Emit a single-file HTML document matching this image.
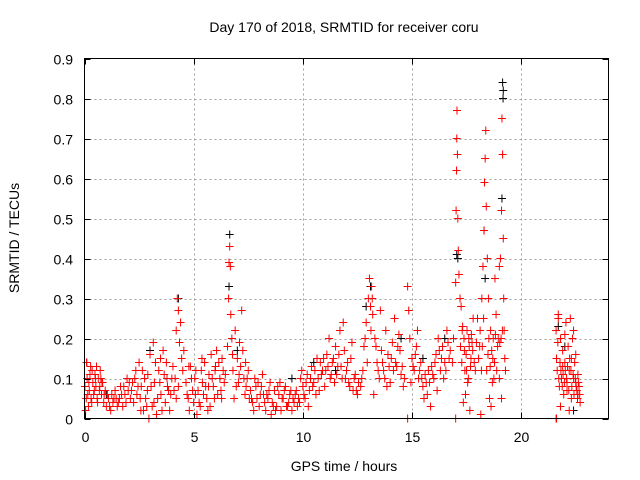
<!DOCTYPE html>
<html><head><meta charset="utf-8"><style>
body{margin:0;background:#fff;}
svg{display:block;font-family:"Liberation Sans",sans-serif;}
</style></head><body>
<svg id="chart" width="640" height="480">
<rect x="0" y="0" width="640" height="480" fill="#fff"/>
<g id="grid"></g>
<g id="marks"></g>
<rect x="84.5" y="58.5" width="524" height="360" fill="none" stroke="#000" stroke-width="1"/>
<g id="ticks"></g>
<text x="344" y="32" text-anchor="middle" font-size="14">Day 170 of 2018, SRMTID for receiver coru</text>
<text x="344" y="471" text-anchor="middle" font-size="14">GPS time / hours</text>
<text transform="translate(19,238) rotate(-90)" text-anchor="middle" font-size="14">SRMTID / TECUs</text>
</svg>
<script>
const xTicks=[0,5,10,15,20];
const yTicks=[0,0.1,0.2,0.3,0.4,0.5,0.6,0.7,0.8,0.9];
const yTickLabels=["0","0.1","0.2","0.3","0.4","0.5","0.6","0.7","0.8","0.9"];
const blackT=[0.1,1.0,3.0,4.3,6.65,6.62,7.0,9.5,10.5,11.5,12.9,13.1,14.5,15.5,16.5,17.05,17.1,18.3,18.35,19.15,19.18,19.17,19.12,21.7,22.0,22.4];
const blackV=[0.14,0.06,0.17,0.3,0.46,0.33,0.17,0.1,0.14,0.12,0.28,0.33,0.2,0.15,0.2,0.41,0.4,0.47,0.35,0.84,0.82,0.8,0.55,0.23,0.18,0.02];
const redT=[0.05,0.1,0.15,0.2,0.3,0.35,0.45,0.5,0.6,0.7,0.8,0.9,1.0,1.1,1.2,1.3,1.4,1.5,1.6,1.7,1.8,1.9,2.0,2.1,2.2,2.3,2.4,0.25,0.55,0.75,1.05,1.45,1.75,2.05,2.35,
2.5,2.6,2.7,2.8,2.9,3.0,3.1,3.2,3.3,3.4,3.5,3.6,3.7,3.8,3.9,4.0,2.65,2.95,3.25,3.55,3.85,3.15,3.45,
4.15,4.2,4.25,4.3,4.35,4.4,4.45,4.5,4.55,4.3,4.2,
4.7,4.8,4.9,5.0,5.1,5.2,5.3,5.4,5.5,5.6,5.7,5.8,5.9,6.0,6.1,6.2,6.3,6.4,4.85,5.15,5.45,5.75,6.05,6.35,
6.55,6.6,6.62,6.65,6.68,6.7,6.75,6.8,6.9,7.0,7.1,7.2,7.3,7.4,7.5,6.85,7.05,7.25,
7.6,7.7,7.8,7.9,8.0,8.1,8.2,8.3,8.4,8.5,8.6,8.7,8.8,8.9,9.0,9.1,9.2,9.3,9.4,9.5,9.6,9.7,9.8,9.9,7.75,8.15,8.55,8.95,9.35,9.75,
10.0,10.1,10.2,10.3,10.4,10.5,10.6,10.7,10.8,10.9,11.0,11.1,11.2,11.3,11.4,11.5,11.6,11.7,11.8,11.9,12.0,12.1,12.2,12.3,12.4,12.5,10.25,10.65,11.05,11.45,11.85,12.25,
12.7,12.8,12.9,13.0,13.05,13.1,13.15,13.2,13.3,13.4,13.5,13.6,13.7,13.8,13.9,14.0,14.1,14.2,14.3,14.4,14.5,14.6,12.95,13.25,13.55,13.85,14.15,14.45,
14.8,14.85,14.9,15.0,15.1,15.2,15.3,15.4,15.5,15.6,15.7,15.8,15.9,16.0,16.1,16.2,16.3,16.4,16.5,16.6,16.7,14.95,15.25,15.55,15.85,16.15,16.45,
16.9,17.0,17.02,17.04,17.05,17.06,17.08,17.1,17.12,17.15,17.2,17.25,17.3,17.4,17.5,17.6,17.7,17.8,17.35,17.55,17.75,17.45,17.65,
17.9,18.0,18.1,18.2,18.25,18.3,18.32,18.35,18.38,18.4,18.45,18.5,18.6,18.7,18.8,18.85,18.15,18.55,18.75,18.42,18.62,
18.95,19.0,19.05,19.1,19.12,19.15,19.18,19.2,19.22,19.25,19.0,19.1,
21.6,21.65,21.7,21.75,21.8,21.85,21.9,21.95,22.0,22.05,22.1,22.15,22.2,22.25,22.3,22.35,22.4,22.45,22.5,22.55,22.6,22.65,22.7,21.7,21.8,21.9,22.0,22.1,22.2,22.3,22.4,22.5,22.6,
14.8,17.0,21.6,21.62,
0.02,0.08,0.12,0.18,0.22,0.28,0.33,0.38,0.42,0.48,0.52,0.58,0.63,0.68,0.72,0.78,0.83,0.88,0.95,1.15,1.25,1.35,1.55,1.65,1.85,1.95,2.15,2.25,2.45,
2.55,2.75,2.85,3.05,3.35,3.65,3.75,3.95,2.58,2.88,3.18,3.48,3.78,4.05,4.1,
4.65,4.75,4.95,5.05,5.25,5.35,5.55,5.65,5.85,5.95,6.15,6.25,6.45,4.78,5.08,5.38,5.68,5.98,6.28,
6.95,7.15,7.35,7.45,7.55,6.78,7.08,7.38,
7.65,7.85,8.05,8.25,8.45,8.65,8.85,9.05,9.25,9.45,9.65,9.85,7.95,8.35,8.75,9.15,9.55,9.95,
10.05,10.15,10.35,10.45,10.55,10.75,10.85,10.95,11.15,11.25,11.35,11.55,11.65,11.75,11.95,12.05,12.15,12.35,12.45,12.55,
12.65,12.75,12.85,13.35,13.45,13.65,13.75,13.95,14.05,14.25,14.35,14.55,14.65,13.12,13.18,
15.05,15.15,15.35,15.45,15.65,15.75,15.95,16.05,16.25,16.35,16.55,16.65,16.75,16.85,
17.22,17.28,17.32,17.38,17.42,17.48,17.52,17.58,17.62,17.68,17.72,17.78,17.85,17.95,18.05,18.12,18.18,18.22,18.28,18.48,18.52,18.58,18.65,18.68,18.72,18.78,18.82,18.88,18.92,19.02,19.08,19.14,19.28,
21.62,21.68,21.72,21.78,21.82,21.88,21.92,21.98,22.02,22.08,22.12,22.18,22.22,22.28,22.32,22.38,22.42,22.48,22.52,22.58,22.62,22.68];
const redV=[0.02,0.14,0.06,0.09,0.05,0.12,0.07,0.1,0.04,0.08,0.09,0.06,0.03,0.05,0.02,0.04,0.07,0.03,0.05,0.06,0.08,0.04,0.07,0.05,0.09,0.1,0.06,0.11,0.13,0.1,0.06,0.05,0.03,0.09,0.12,
0.14,0.08,0.02,0.05,0.11,0.16,0.03,0.09,0.01,0.12,0.06,0.17,0.04,0.08,0.02,0.1,0.12,0.0,0.14,0.02,0.07,0.19,0.09,
0.1,0.22,0.3,0.27,0.19,0.24,0.15,0.12,0.17,0.08,0.05,
0.06,0.02,0.1,0.04,0.12,0.07,0.03,0.09,0.14,0.05,0.11,0.16,0.08,0.13,0.06,0.1,0.15,0.09,0.13,0.01,0.06,0.03,0.17,0.12,
0.18,0.3,0.39,0.43,0.38,0.26,0.2,0.12,0.22,0.15,0.19,0.27,0.1,0.08,0.12,0.05,0.09,0.17,
0.07,0.04,0.1,0.05,0.03,0.08,0.06,0.02,0.05,0.09,0.04,0.07,0.03,0.06,0.02,0.05,0.08,0.03,0.06,0.02,0.04,0.07,0.05,0.1,0.02,0.11,0.01,0.09,0.04,0.03,
0.08,0.05,0.11,0.07,0.13,0.09,0.06,0.1,0.14,0.12,0.08,0.16,0.2,0.11,0.15,0.18,0.13,0.22,0.1,0.17,0.12,0.09,0.15,0.07,0.11,0.06,0.03,0.15,0.12,0.09,0.24,0.19,
0.1,0.18,0.24,0.3,0.35,0.28,0.33,0.26,0.2,0.14,0.1,0.17,0.12,0.22,0.16,0.09,0.19,0.25,0.13,0.21,0.11,0.08,0.14,0.06,0.27,0.08,0.12,0.17,
0.33,0.27,0.2,0.15,0.12,0.18,0.1,0.14,0.08,0.11,0.06,0.09,0.13,0.1,0.16,0.2,0.12,0.18,0.14,0.22,0.15,0.09,0.22,0.05,0.03,0.07,0.1,
0.2,0.34,0.52,0.62,0.7,0.77,0.66,0.5,0.42,0.36,0.3,0.28,0.22,0.17,0.12,0.2,0.15,0.25,0.04,0.09,0.19,0.06,0.02,
0.12,0.25,0.18,0.3,0.38,0.47,0.59,0.65,0.72,0.53,0.4,0.3,0.22,0.15,0.35,0.26,0.01,0.05,0.1,0.12,0.03,
0.2,0.38,0.4,0.52,0.75,0.66,0.45,0.3,0.22,0.15,0.1,0.05,
0.22,0.12,0.25,0.08,0.2,0.1,0.17,0.06,0.14,0.24,0.09,0.18,0.12,0.25,0.05,0.2,0.1,0.14,0.16,0.07,0.11,0.08,0.04,0.26,0.03,0.13,0.21,0.07,0.02,0.15,0.22,0.09,0.06,
0,0,0,0,
0.08,0.05,0.1,0.03,0.07,0.13,0.04,0.09,0.06,0.11,0.08,0.05,0.1,0.07,0.12,0.06,0.09,0.04,0.07,0.03,0.06,0.05,0.04,0.08,0.06,0.1,0.07,0.04,0.08,
0.05,0.1,0.03,0.08,0.05,0.11,0.14,0.06,0.02,0.07,0.04,0.15,0.1,0.13,0.07,
0.09,0.05,0.07,0.1,0.04,0.12,0.08,0.02,0.1,0.05,0.14,0.07,0.11,0.13,0.06,0.15,0.08,0.12,0.05,
0.08,0.13,0.06,0.1,0.05,0.16,0.11,0.14,
0.05,0.08,0.06,0.04,0.07,0.03,0.08,0.05,0.03,0.07,0.06,0.04,0.09,0.06,0.02,0.07,0.05,0.12,
0.06,0.09,0.1,0.08,0.12,0.07,0.11,0.15,0.13,0.1,0.14,0.11,0.16,0.13,0.1,0.14,0.08,0.1,0.07,0.09,
0.08,0.12,0.2,0.18,0.12,0.14,0.1,0.13,0.15,0.14,0.18,0.13,0.1,0.22,0.3,
0.13,0.16,0.12,0.1,0.09,0.12,0.11,0.14,0.17,0.15,0.12,0.19,0.17,0.14,
0.18,0.14,0.23,0.2,0.12,0.16,0.22,0.1,0.18,0.13,0.21,0.17,0.14,0.19,0.15,0.22,0.12,0.18,0.25,0.16,0.2,0.13,0.17,0.09,0.2,0.14,0.21,0.12,0.18,0.19,0.2,0.22,0.12,
0.15,0.19,0.1,0.14,0.12,0.08,0.11,0.09,0.12,0.1,0.13,0.07,0.15,0.12,0.08,0.11,0.06,0.1,0.08,0.05,0.09,0.06];
const X0=84.5,X1=608.5,Y0=418.5,Y1=58.5,XMAX=24,YMAX=0.9;
function xs(t){return X0+(X1-X0)*t/XMAX;}
function ys(v){return Y0-(Y0-Y1)*v/YMAX;}
const NS="http://www.w3.org/2000/svg";
const grid=document.getElementById('grid'),ticks=document.getElementById('ticks'),marks=document.getElementById('marks');
function mk(tag,attrs,parent){const e=document.createElementNS(NS,tag);for(const k in attrs)e.setAttribute(k,attrs[k]);parent.appendChild(e);return e;}
xTicks.forEach(t=>{
  const x=Math.round(xs(t))+0.5;
  if(t>0){const g=mk('line',{x1:x,x2:x,y1:Y1,y2:Y0,stroke:'#a0a0a0','stroke-dasharray':'2,3'},grid);
  
  }
  mk('line',{x1:x,x2:x,y1:Y0,y2:Y0-6,stroke:'#000'},ticks);
  mk('line',{x1:x,x2:x,y1:Y1,y2:Y1+6,stroke:'#000'},ticks);
  const l=mk('text',{x:x,y:442,'text-anchor':'middle','font-size':'14'},ticks);
  l.textContent=String(t);
  
  
});
yTicks.forEach((v,i)=>{
  const y=Math.round(ys(v))+0.5;
  if(v>0&&v<0.9){const g=mk('line',{x1:X0,x2:X1,y1:y,y2:y,stroke:'#a0a0a0','stroke-dasharray':'2,3'},grid);
  
  }
  mk('line',{x1:X0,x2:X0+6,y1:y,y2:y,stroke:'#000'},ticks);
  mk('line',{x1:X1,x2:X1-6,y1:y,y2:y,stroke:'#000'},ticks);
  const l=mk('text',{x:73,y:y+5,'text-anchor':'end','font-size':'14'},ticks);
  l.textContent=yTickLabels[i];
  
  
});
function cross(t,v,col,name){
  const x=xs(t),y=ys(v);
  const p=mk('path',{d:`M${x-4},${y}H${x+4}M${x},${y-4}V${y+4}`,stroke:col,'stroke-width':'1',fill:'none'},marks);
  
  
}
blackT.forEach((t,i)=>cross(t,blackV[i],'#000','black-point'));
redT.forEach((t,i)=>cross(t,redV[i],'#ff0000','red-point'));
</script>
</body></html>
